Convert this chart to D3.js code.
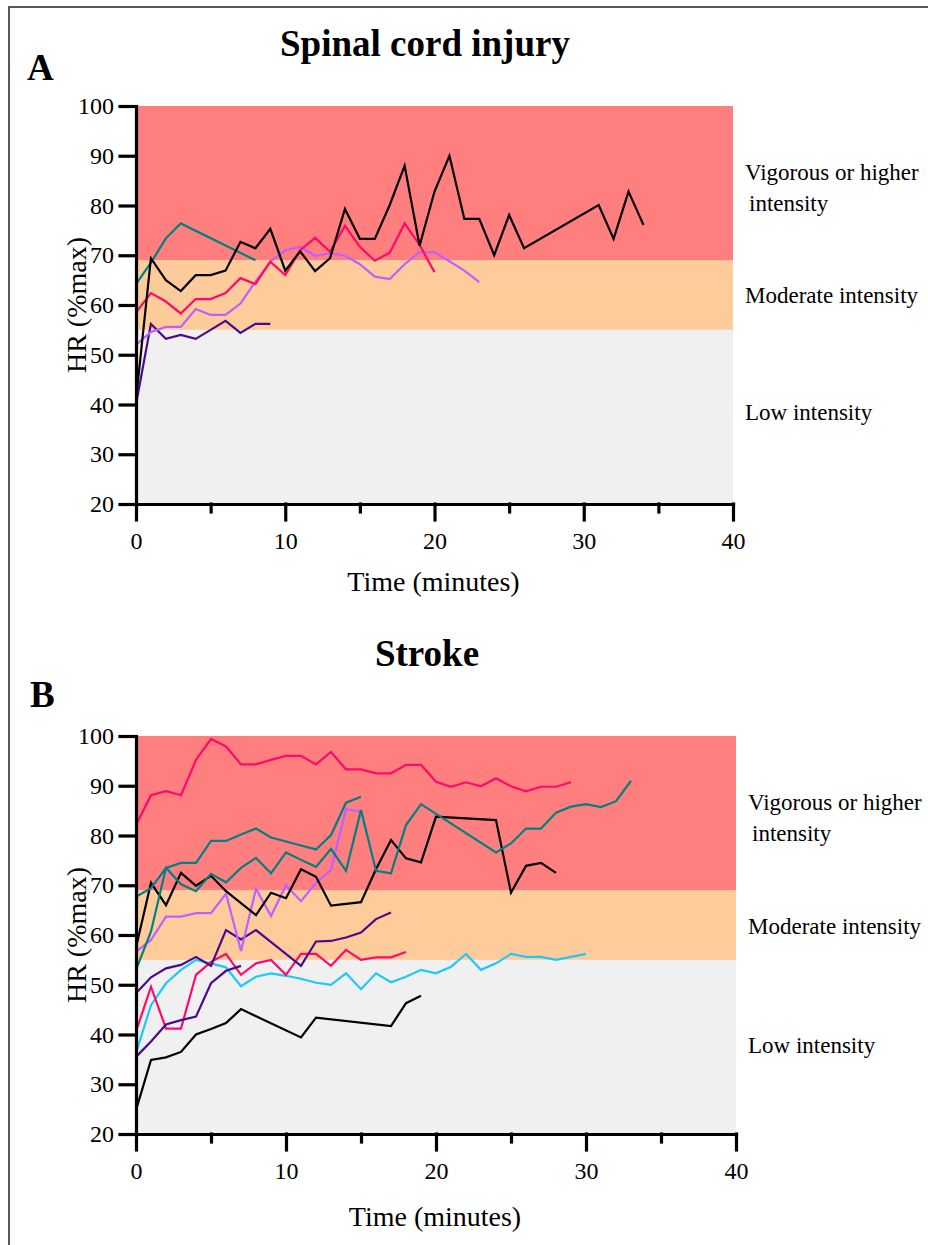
<!DOCTYPE html>
<html>
<head>
<meta charset="utf-8">
<script src="https://cdn.jsdelivr.net/npm/d3@7"></script>
<style>
  body { margin: 0; background: #fff; }
  #chart { width: 928px; height: 1245px; }
  text { font-family: "Liberation Serif", "DejaVu Serif", serif; }
</style>
</head>
<body>
<div id="chart"></div>
<script>

// zones (HR %max)
var zoneNames = ["Low intensity", "Moderate intensity", "Vigorous or higher intensity"];
var zoneLow = [20, 55, 69];
var zoneHigh = [55, 69, 100];
var zoneColors = ["#f0f0f0", "#fecc9a", "#ff7f7f"];

var xTicks = [0, 10, 20, 30, 40];
var xMinorTicks = [5, 15, 25, 35];
var yTicks = [20, 30, 40, 50, 60, 70, 80, 90, 100];

// A - spinal cord injury, [minute, HR %max]
var sciTeal = [[0,64.2],[1,68.5],[2,73.4],[3,76.4],[8,69]];
var sciBlack = [[0,41],[1,69.4],[2,65],[3,62.8],[4,66],[5,66],[6,66.9],[7,72.7],[8,71.4],[9,75.3],[10,66.9],[11,70.8],[12,66.8],[13,69.4],[14,79.3],[15,73.3],[16,73.3],[17,80.1],[18,88],[19,71.9],[20,82.8],[21,90],[22,77.3],[23,77.3],[24,70],[25,78.1],[26,71.4],[31,80.1],[32,73.3],[33,82.8],[34,76.1]];
var sciPink = [[0,58.5],[1,62.4],[2,60.7],[3,58.3],[4,61.2],[5,61.2],[6,62.4],[7,65.4],[8,64.2],[9,68.7],[10,66],[11,71],[12,73.5],[13,70.7],[14,75.9],[15,71.7],[16,68.9],[17,70.5],[18,76.4],[19,72.1],[20,66.6]];
var sciLavender = [[0,52],[1,54.6],[2,55.6],[3,55.6],[4,59.2],[5,58],[6,58],[7,60.3],[8,64.7],[9,68.7],[10,71],[11,71.7],[12,69.9],[13,70.4],[14,69.9],[15,68.2],[16,65.7],[17,65.2],[18,68.2],[19,70.6],[20,70.6],[21,68.8],[22,66.9],[23,64.6]];
var sciIndigo = [[0,40],[1,56.2],[2,53.2],[3,54],[4,53.2],[5,55],[6,56.8],[7,54.4],[8,56.2],[9,56.2]];

// B - stroke
var strPink1 = [[0,82.1],[1,88.1],[2,88.9],[3,88.1],[4,95.2],[5,99.4],[6,97.9],[7,94.3],[8,94.3],[9,95.2],[10,96],[11,96],[12,94.3],[13,96.8],[14,93.3],[15,93.3],[16,92.5],[17,92.5],[18,94.2],[19,94.2],[20,90.8],[21,89.8],[22,90.7],[23,89.9],[24,91.5],[25,89.9],[26,88.9],[27,89.8],[28,89.8],[29,90.7]];
var strTeal1 = [[0,67.7],[1,69.4],[2,73.5],[3,74.5],[4,74.5],[5,78.9],[6,78.9],[7,80.2],[8,81.4],[9,79.6],[10,78.8],[11,78],[12,77.2],[13,80.1],[14,86.6],[15,87.8]];
var strTeal2 = [[0,53],[1,60.7],[2,73.5],[3,70.2],[4,68.8],[5,72.3],[6,70.6],[7,73.5],[8,75.5],[9,72.4],[10,76.6],[11,75.1],[12,73.7],[13,77.3],[14,72.9],[15,85.1],[16,72.9],[17,72.4],[18,82.1],[19,86.3],[24,76.6],[25,78.4],[26,81.4],[27,81.4],[28,84.6],[29,85.8],[30,86.3],[31,85.7],[32,86.9],[33,91]];
var strBlack1 = [[0,57.5],[1,70.5],[2,66],[3,72.5],[4,69.9],[5,71.9],[6,68.8],[8,64],[9,68.5],[10,67.4],[11,73.2],[12,71.7],[13,65.9],[15,66.6],[16,73.2],[17,79.1],[18,75.4],[19,74.6],[20,83.8],[24,83.1],[25,68.5],[26,73.9],[27,74.5],[28,72.5]];
var strLavender = [[0,56.6],[1,59],[2,63.7],[3,63.7],[4,64.4],[5,64.4],[6,68.3],[7,56.8],[8,69.3],[9,63.8],[10,70],[11,66.8],[12,70.5],[13,73.1],[14,85.3],[15,84.8]];
var strIndigo1 = [[0,48.3],[1,51.5],[2,53.3],[3,54],[4,55.6],[5,53.8],[6,61],[7,59.1],[8,61],[11,53.8],[12,58.7],[13,58.8],[14,59.5],[15,60.5],[16,63.2],[17,64.5]];
var strIndigo2 = [[0,35.5],[1,38.6],[2,42],[3,42.9],[4,43.6],[5,50.3],[6,52.8],[7,53.8]];
var strPink2 = [[0,40.6],[1,49.6],[2,41.2],[3,41.2],[4,52],[5,54.6],[6,56.2],[7,52],[8,54.3],[9,55],[10,52],[11,56.2],[12,56.2],[13,53.8],[14,57],[15,55],[16,55.5],[17,55.5],[18,56.6]];
var strCyan = [[0,36.3],[1,45.9],[2,50.3],[3,53],[4,55],[5,54.3],[6,53.5],[7,49.7],[8,51.6],[9,52.3],[10,51.8],[11,51.2],[12,50.4],[13,50],[14,52.3],[15,49.1],[16,52.3],[17,50.5],[18,51.6],[19,53],[20,52.3],[21,53.6],[22,56.2],[23,53],[24,54.3],[25,56.2],[26,55.6],[27,55.6],[28,55],[30,56.2]];
var strBlack2 = [[0,24.8],[1,34.9],[2,35.4],[3,36.5],[4,40],[5,41.1],[6,42.3],[7,45.1],[11,39.4],[12,43.4],[17,41.7],[18,46.3],[19,47.8]];

var teal = "#008080", black = "#000000", pink = "#ff0a6a",
    lavender = "#bf5fff", indigo = "#4b0a8c", cyan = "#1ec8f8";

var panels = [
    {
        letter: "A", title: "Spinal cord injury",
        top: 106, bottom: 504, left: 136, right: 733,
        titleX: 425, titleY: 56, letterX: 27, letterY: 80,
        xTitleY: 591,
        series: [
            {data: sciIndigo, color: indigo},
            {data: sciLavender, color: lavender},
            {data: sciPink, color: pink},
            {data: sciTeal, color: teal},
            {data: sciBlack, color: black}
        ],
        zoneLabelX: 745,
        zoneLabelY: [420, 303, 180]
    },
    {
        letter: "B", title: "Stroke",
        top: 736, bottom: 1134, left: 136, right: 736,
        titleX: 427, titleY: 666, letterX: 30, letterY: 707,
        xTitleY: 1226,
        series: [
            {data: strBlack2, color: black},
            {data: strCyan, color: cyan},
            {data: strPink2, color: pink},
            {data: strIndigo2, color: indigo},
            {data: strIndigo1, color: indigo},
            {data: strLavender, color: lavender},
            {data: strBlack1, color: black},
            {data: strTeal2, color: teal},
            {data: strTeal1, color: teal},
            {data: strPink1, color: pink}
        ],
        zoneLabelX: 748,
        zoneLabelY: [1053, 934, 810]
    }
];

var width = 928, height = 1245;

var svg = d3.select("#chart")
    .append("svg")
    .attr("width", width)
    .attr("height", height);

// outer frame
svg.append("rect")
    .attr("x", 9)
    .attr("y", 7)
    .attr("width", width + 20)
    .attr("height", height + 20)
    .attr("fill", "none")
    .attr("stroke", "#222")
    .attr("stroke-width", 1.5);

panels.forEach(function(p) {

    var x = d3.scaleLinear().domain([0, 40]).range([p.left, p.right]);
    var y = d3.scaleLinear().domain([20, 100]).range([p.bottom, p.top]);

    var g = svg.append("g");

    // intensity zones
    g.selectAll("rect.zone")
        .data(zoneLow)
        .enter()
        .append("rect")
            .attr("class", "zone")
            .attr("x", x(0))
            .attr("width", x(40) - x(0))
            .attr("y", function(d, i) { return y(zoneHigh[i]); })
            .attr("height", function(d, i) { return y(d) - y(zoneHigh[i]); })
            .attr("fill", function(d, i) { return zoneColors[i]; });

    var line = d3.line()
        .x(function(d) { return x(d[0]); })
        .y(function(d) { return y(d[1]); });

    g.selectAll("path.series")
        .data(p.series)
        .enter()
        .append("path")
            .attr("class", "series")
            .attr("fill", "none")
            .attr("stroke", function(d) { return d.color; })
            .attr("stroke-width", 2.2)
            .attr("stroke-linejoin", "miter")
            .attr("d", function(d) { return line(d.data); });

    // axes
    var yAxis = g.append("g")
        .attr("transform", "translate(" + p.left + ",0)")
        .call(d3.axisLeft(y).tickValues(yTicks).tickSize(16).tickSizeOuter(0).tickPadding(6));

    var xAxis = g.append("g")
        .attr("transform", "translate(0," + p.bottom + ")")
        .call(d3.axisBottom(x).tickValues(xTicks).tickSize(16).tickSizeOuter(0).tickPadding(12));

    var xMinor = g.append("g")
        .attr("transform", "translate(0," + p.bottom + ")")
        .call(d3.axisBottom(x).tickValues(xMinorTicks).tickSize(8).tickSizeOuter(0).tickFormat(""));
    xMinor.select(".domain").remove();

    [yAxis, xAxis, xMinor].forEach(function(a) {
        a.selectAll("path, line")
            .attr("stroke", "#000")
            .attr("stroke-width", 3.2)
            .attr("stroke-linecap", "square");
        a.selectAll("text")
            .attr("fill", "#000")
            .style("font-family", "'Liberation Serif', serif")
            .style("font-size", "24px");
    });

    // titles
    svg.append("text")
        .attr("x", p.titleX)
        .attr("y", p.titleY)
        .attr("text-anchor", "middle")
        .style("font-size", "37px")
        .style("font-weight", "bold")
        .text(p.title);

    svg.append("text")
        .attr("x", p.letterX)
        .attr("y", p.letterY)
        .style("font-size", "37px")
        .style("font-weight", "bold")
        .text(p.letter);

    svg.append("text")
        .attr("x", (p.left + p.right) / 2 - 1)
        .attr("y", p.xTitleY)
        .attr("text-anchor", "middle")
        .style("font-size", "28px")
        .text("Time (minutes)");

    svg.append("text")
        .attr("transform", "translate(86," + ((p.top + p.bottom) / 2) + ") rotate(-90)")
        .attr("text-anchor", "middle")
        .style("font-size", "28px")
        .text("HR (%max)");

    // zone labels
    zoneNames.forEach(function(name, i) {
        var t = svg.append("text")
            .attr("x", p.zoneLabelX)
            .attr("y", p.zoneLabelY[i])
            .style("font-size", "23px");
        if (i == 2) {
            t.append("tspan").attr("x", p.zoneLabelX).text("Vigorous or higher");
            t.append("tspan").attr("x", p.zoneLabelX + 4).attr("dy", 31).text("intensity");
        } else {
            t.text(name);
        }
    });
});

</script>
</body>
</html>
